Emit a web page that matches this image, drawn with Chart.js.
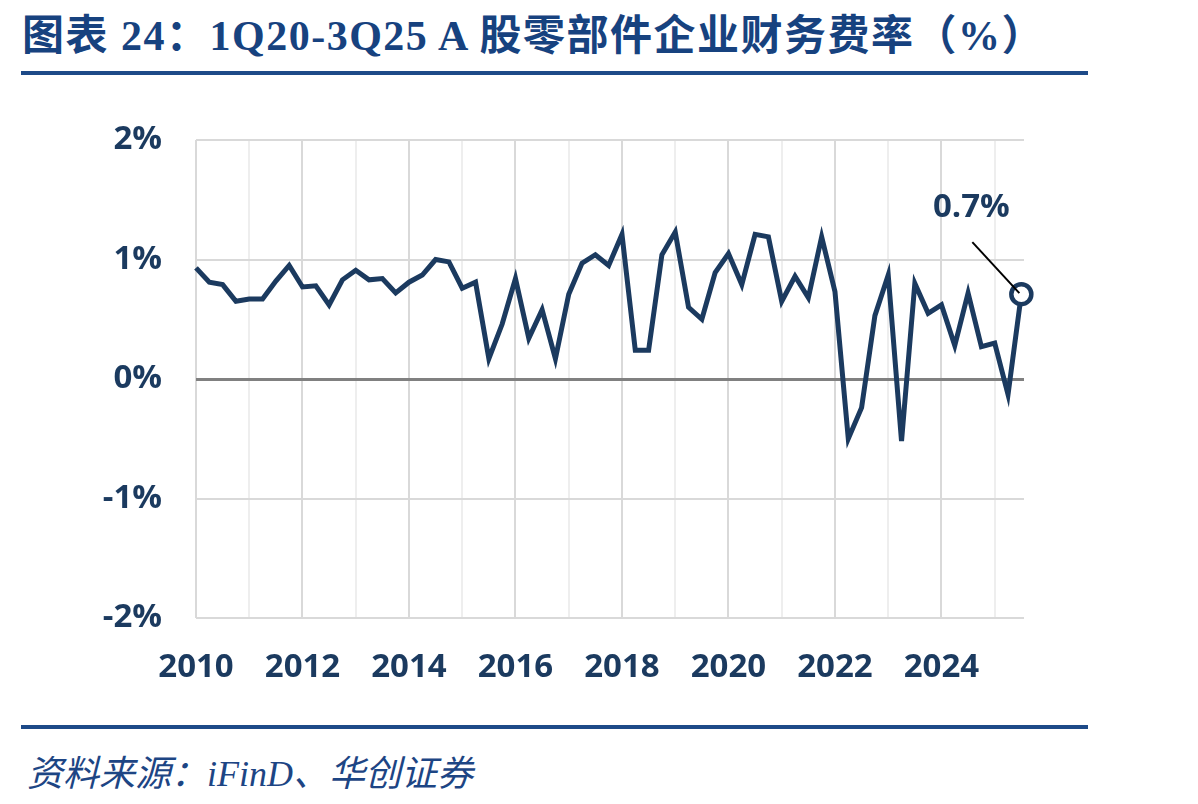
<!DOCTYPE html>
<html>
<head>
<meta charset="utf-8">
<script src="https://cdn.jsdelivr.net/npm/chart.js@4/dist/chart.umd.min.js"></script>
<style>
  html, body { margin: 0; padding: 0; background: #fff; }
  body { width: 1198px; height: 804px; position: relative; overflow: hidden; }
  #title { position: absolute; left: 22px; top: 1px; font-family: "Liberation Serif", "Noto Sans CJK SC", serif; font-weight: bold; font-size: 42px; color: #17427f; white-space: nowrap; letter-spacing: 1.5px; }
  .rule { position: absolute; left: 21px; width: 1067px; height: 4px; background: #1d4a88; }
  #footer { position: absolute; left: 27px; top: 744px; font-family: "Liberation Serif", "Noto Sans CJK SC", serif; font-style: italic; font-size: 36px; color: #1d4584; white-space: nowrap; }
  #wrap { position: absolute; left: 0; top: 80px; width: 1198px; height: 640px; }
</style>
</head>
<body>
<div id="title">图表 24：1Q20-3Q25 A 股零部件企业财务费率（%）</div>
<div class="rule" style="top:71px"></div>
<div id="wrap"><canvas id="c" width="1198" height="640"></canvas></div>
<div class="rule" style="top:725px"></div>
<div id="footer">资料来源：iFinD、华创证券</div>
<script>
// Quarterly periods (quarter labels) and financial expense ratio values (%)
const periods = [
  '1Q10','2Q10','3Q10','4Q10','1Q11','2Q11','3Q11','4Q11',
  '1Q12','2Q12','3Q12','4Q12','1Q13','2Q13','3Q13','4Q13',
  '1Q14','2Q14','3Q14','4Q14','1Q15','2Q15','3Q15','4Q15',
  '1Q16','2Q16','3Q16','4Q16','1Q17','2Q17','3Q17','4Q17',
  '1Q18','2Q18','3Q18','4Q18','1Q19','2Q19','3Q19','4Q19',
  '1Q20','2Q20','3Q20','4Q20','1Q21','2Q21','3Q21','4Q21',
  '1Q22','2Q22','3Q22','4Q22','1Q23','2Q23','3Q23','4Q23',
  '1Q24','2Q24','3Q24','4Q24','1Q25','2Q25','3Q25'
];
const ratio = [
  0.93, 0.81, 0.79, 0.65,  0.67, 0.67, 0.82, 0.95,
  0.77, 0.78, 0.62, 0.83,  0.91, 0.83, 0.84, 0.72,
  0.81, 0.87, 1.00, 0.98,  0.76, 0.81, 0.17, 0.46,
  0.84, 0.34, 0.58, 0.17,  0.71, 0.97, 1.04, 0.95,
  1.21, 0.24, 0.24, 1.04,  1.23, 0.60, 0.50, 0.89,
  1.05, 0.79, 1.21, 1.19,  0.65, 0.86, 0.68, 1.19,
  0.73, -0.50, -0.24, 0.53, 0.87, -0.52, 0.80, 0.55,
  0.62, 0.28, 0.72, 0.27,  0.30, -0.13, 0.71
];
const yTicks = [-2, -1, 0, 1, 2];
const xTickLabels = [2010, 2012, 2014, 2016, 2018, 2020, 2022, 2024];
const lastLabel = '0.7%';

const NAVY = '#1b3a5f';
const TICK_FONT = { family: '"Open Sans", "Liberation Sans", sans-serif', weight: 'bold', size: 33 };

// convert quarter label to a position on a year axis
function periodToX(p) {
  const q = parseInt(p[0], 10);
  const yr = 2000 + parseInt(p.slice(2), 10);
  return yr + (q - 1) / 4;
}
const points = periods.map((p, i) => ({ x: periodToX(p), y: ratio[i] }));
const lastIdx = points.length - 1;

const annotate = {
  id: 'annotate',
  afterDatasetsDraw(chart) {
    const meta = chart.getDatasetMeta(0);
    const el = meta.data[lastIdx];
    const ctx = chart.ctx;
    ctx.save();
    ctx.strokeStyle = '#000';
    ctx.lineWidth = 2;
    ctx.beginPath();
    ctx.moveTo(el.x - 49, el.y - 52);
    ctx.lineTo(el.x - 2, el.y - 1);
    ctx.stroke();
    ctx.fillStyle = NAVY;
    ctx.font = 'bold 33px "Open Sans", "Liberation Sans", sans-serif';
    ctx.textAlign = 'center';
    ctx.textBaseline = 'middle';
    ctx.fillText(lastLabel, el.x - 50, el.y - 87);
    ctx.restore();
  }
};

new Chart(document.getElementById('c'), {
  type: 'line',
  data: {
    datasets: [{
      data: points,
      borderColor: NAVY,
      borderWidth: 5,
      tension: 0,
      clip: false,
      pointRadius: ctx => ctx.dataIndex === lastIdx ? 10 : 0,
      pointBackgroundColor: '#fff',
      pointBorderColor: NAVY,
      pointBorderWidth: 4.5,
      pointHoverRadius: 0
    }]
  },
  options: {
    responsive: false,
    animation: false,
    events: [],
    layout: { padding: { left: 0, right: 174, top: 60, bottom: 0 } },
    plugins: { legend: { display: false }, tooltip: { enabled: false } },
    scales: {
      x: {
        type: 'linear',
        min: 2010,
        max: 2025.55,
        border: { display: false },
        grid: {
          drawTicks: false,
          color: c => (c.tick && Number.isInteger(c.tick.value)) ? (c.tick.value % 2 === 0 ? '#d9d9d9' : '#eeeeee') : 'transparent',
          lineWidth: 2
        },
        ticks: {
          stepSize: 1,
          includeBounds: false,
          autoSkip: false,
          maxRotation: 0,
          padding: 30,
          color: NAVY,
          font: TICK_FONT,
          callback: v => xTickLabels.includes(v) ? String(v) : ''
        },
        afterFit: s => { s.height = 102; }
      },
      y: {
        min: -2,
        max: 2,
        border: { display: false },
        grid: {
          drawTicks: false,
          color: c => c.tick && c.tick.value === 0 ? '#808080' : '#d9d9d9',
          lineWidth: c => c.tick && c.tick.value === 0 ? 3 : 2
        },
        afterBuildTicks: s => { s.ticks = yTicks.map(v => ({ value: v })); },
        ticks: {
          padding: 34,
          color: NAVY,
          font: TICK_FONT,
          callback: v => v + '%'
        },
        afterFit: s => { s.width = 196; }
      }
    }
  },
  plugins: [annotate]
});
</script>
</body>
</html>
